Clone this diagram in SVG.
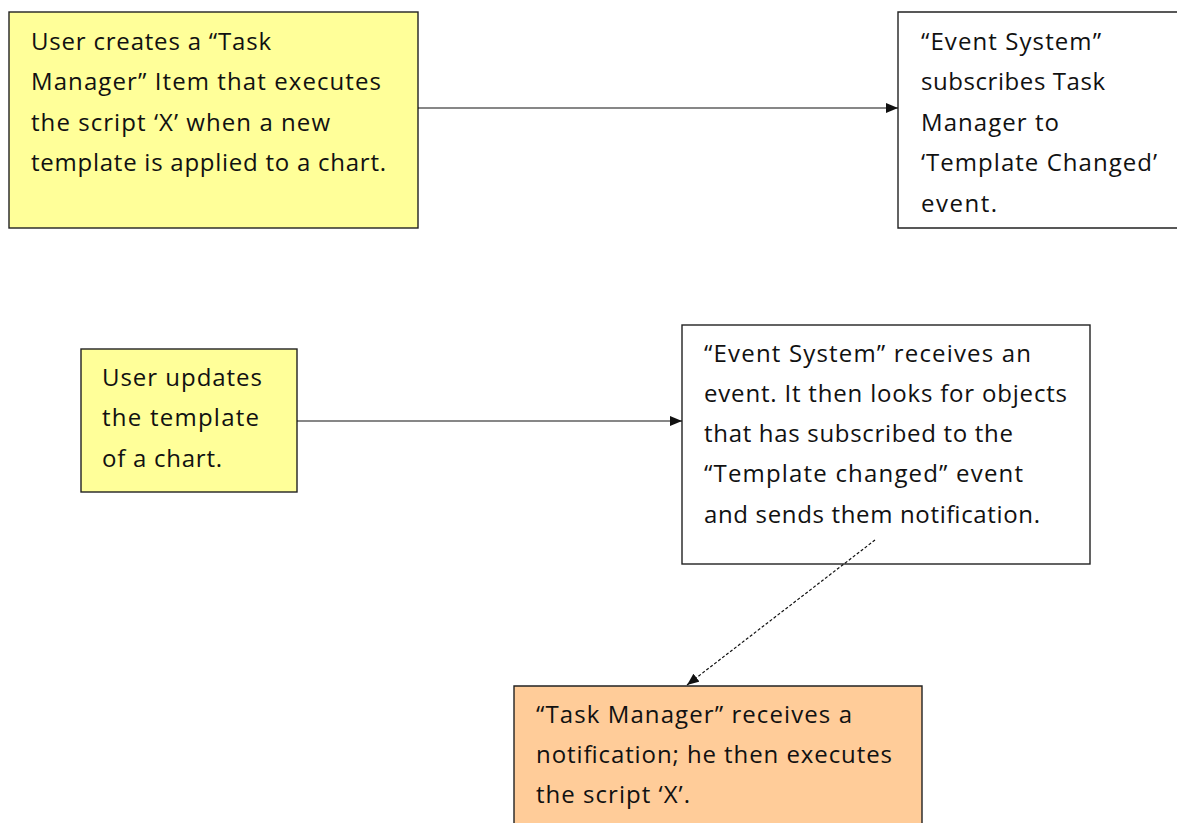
<svg xmlns="http://www.w3.org/2000/svg" width="1177" height="823" viewBox="0 0 1177 823">
<style>
.box{stroke:#222;stroke-width:1.4}
.yellow{fill:#FFFF99}
.white{fill:#FFFFFF}
.orange{fill:#FFCC99}
text{font-family:"Open Sans","Noto Sans","Liberation Sans",sans-serif;font-size:24px;fill:#111}
.conn{stroke:#111;stroke-width:1.2;fill:none}
.dash{stroke-dasharray:3 2}
</style>
<defs>
<marker id="ah" markerWidth="12" markerHeight="10" refX="12" refY="5" orient="auto" markerUnits="userSpaceOnUse">
<path d="M0,0 L12,5 L0,10 Z" fill="#111"/>
</marker>
</defs>
<rect width="1177" height="823" fill="#FFFFFF"/>
<g id="node1">
<rect class="box yellow" x="9" y="12" width="409" height="216"/>
<text x="31" y="50" textLength="240" lengthAdjust="spacing">User creates a “Task</text>
<text x="31" y="90" textLength="350" lengthAdjust="spacing">Manager” Item that executes</text>
<text x="31" y="131" textLength="299" lengthAdjust="spacing">the script ‘X’ when a new</text>
<text x="31" y="171" textLength="355" lengthAdjust="spacing">template is applied to a chart.</text>
</g>
<g id="node2">
<path class="box white" d="M1178,12 L898,12 L898,228 L1178,228"/>
<text x="921" y="50" textLength="180" lengthAdjust="spacing">“Event System”</text>
<text x="921" y="90" textLength="184" lengthAdjust="spacing">subscribes Task</text>
<text x="921" y="131" textLength="138" lengthAdjust="spacing">Manager to</text>
<text x="921" y="171" textLength="236" lengthAdjust="spacing">‘Template Changed’</text>
<text x="921" y="212" textLength="76" lengthAdjust="spacing">event.</text>
</g>
<g id="node3">
<rect class="box yellow" x="81" y="349" width="216" height="143"/>
<text x="102" y="386" textLength="160" lengthAdjust="spacing">User updates</text>
<text x="102" y="426" textLength="157" lengthAdjust="spacing">the template</text>
<text x="102" y="467" textLength="120" lengthAdjust="spacing">of a chart.</text>
</g>
<g id="node4">
<rect class="box white" x="682" y="325" width="408" height="239"/>
<text x="704" y="362" textLength="327" lengthAdjust="spacing">“Event System” receives an</text>
<text x="704" y="402" textLength="363" lengthAdjust="spacing">event. It then looks for objects</text>
<text x="704" y="442" textLength="309" lengthAdjust="spacing">that has subscribed to the</text>
<text x="704" y="482" textLength="319" lengthAdjust="spacing">“Template changed” event</text>
<text x="704" y="523" textLength="336" lengthAdjust="spacing">and sends them notification.</text>
</g>
<g id="node5">
<path class="box orange" d="M514,824 L514,686 L922,686 L922,824"/>
<text x="536" y="723" textLength="316" lengthAdjust="spacing">“Task Manager” receives a</text>
<text x="536" y="763" textLength="356" lengthAdjust="spacing">notification; he then executes</text>
<text x="536" y="803" textLength="154" lengthAdjust="spacing">the script ‘X’.</text>
</g>
<g id="connectors">
<line class="conn" x1="418" y1="108" x2="898" y2="108" marker-end="url(#ah)"/>
<line class="conn" x1="297" y1="421" x2="682" y2="421" marker-end="url(#ah)"/>
<line class="conn dash" x1="875" y1="540" x2="687" y2="685" marker-end="url(#ah)"/>
</g>
</svg>
